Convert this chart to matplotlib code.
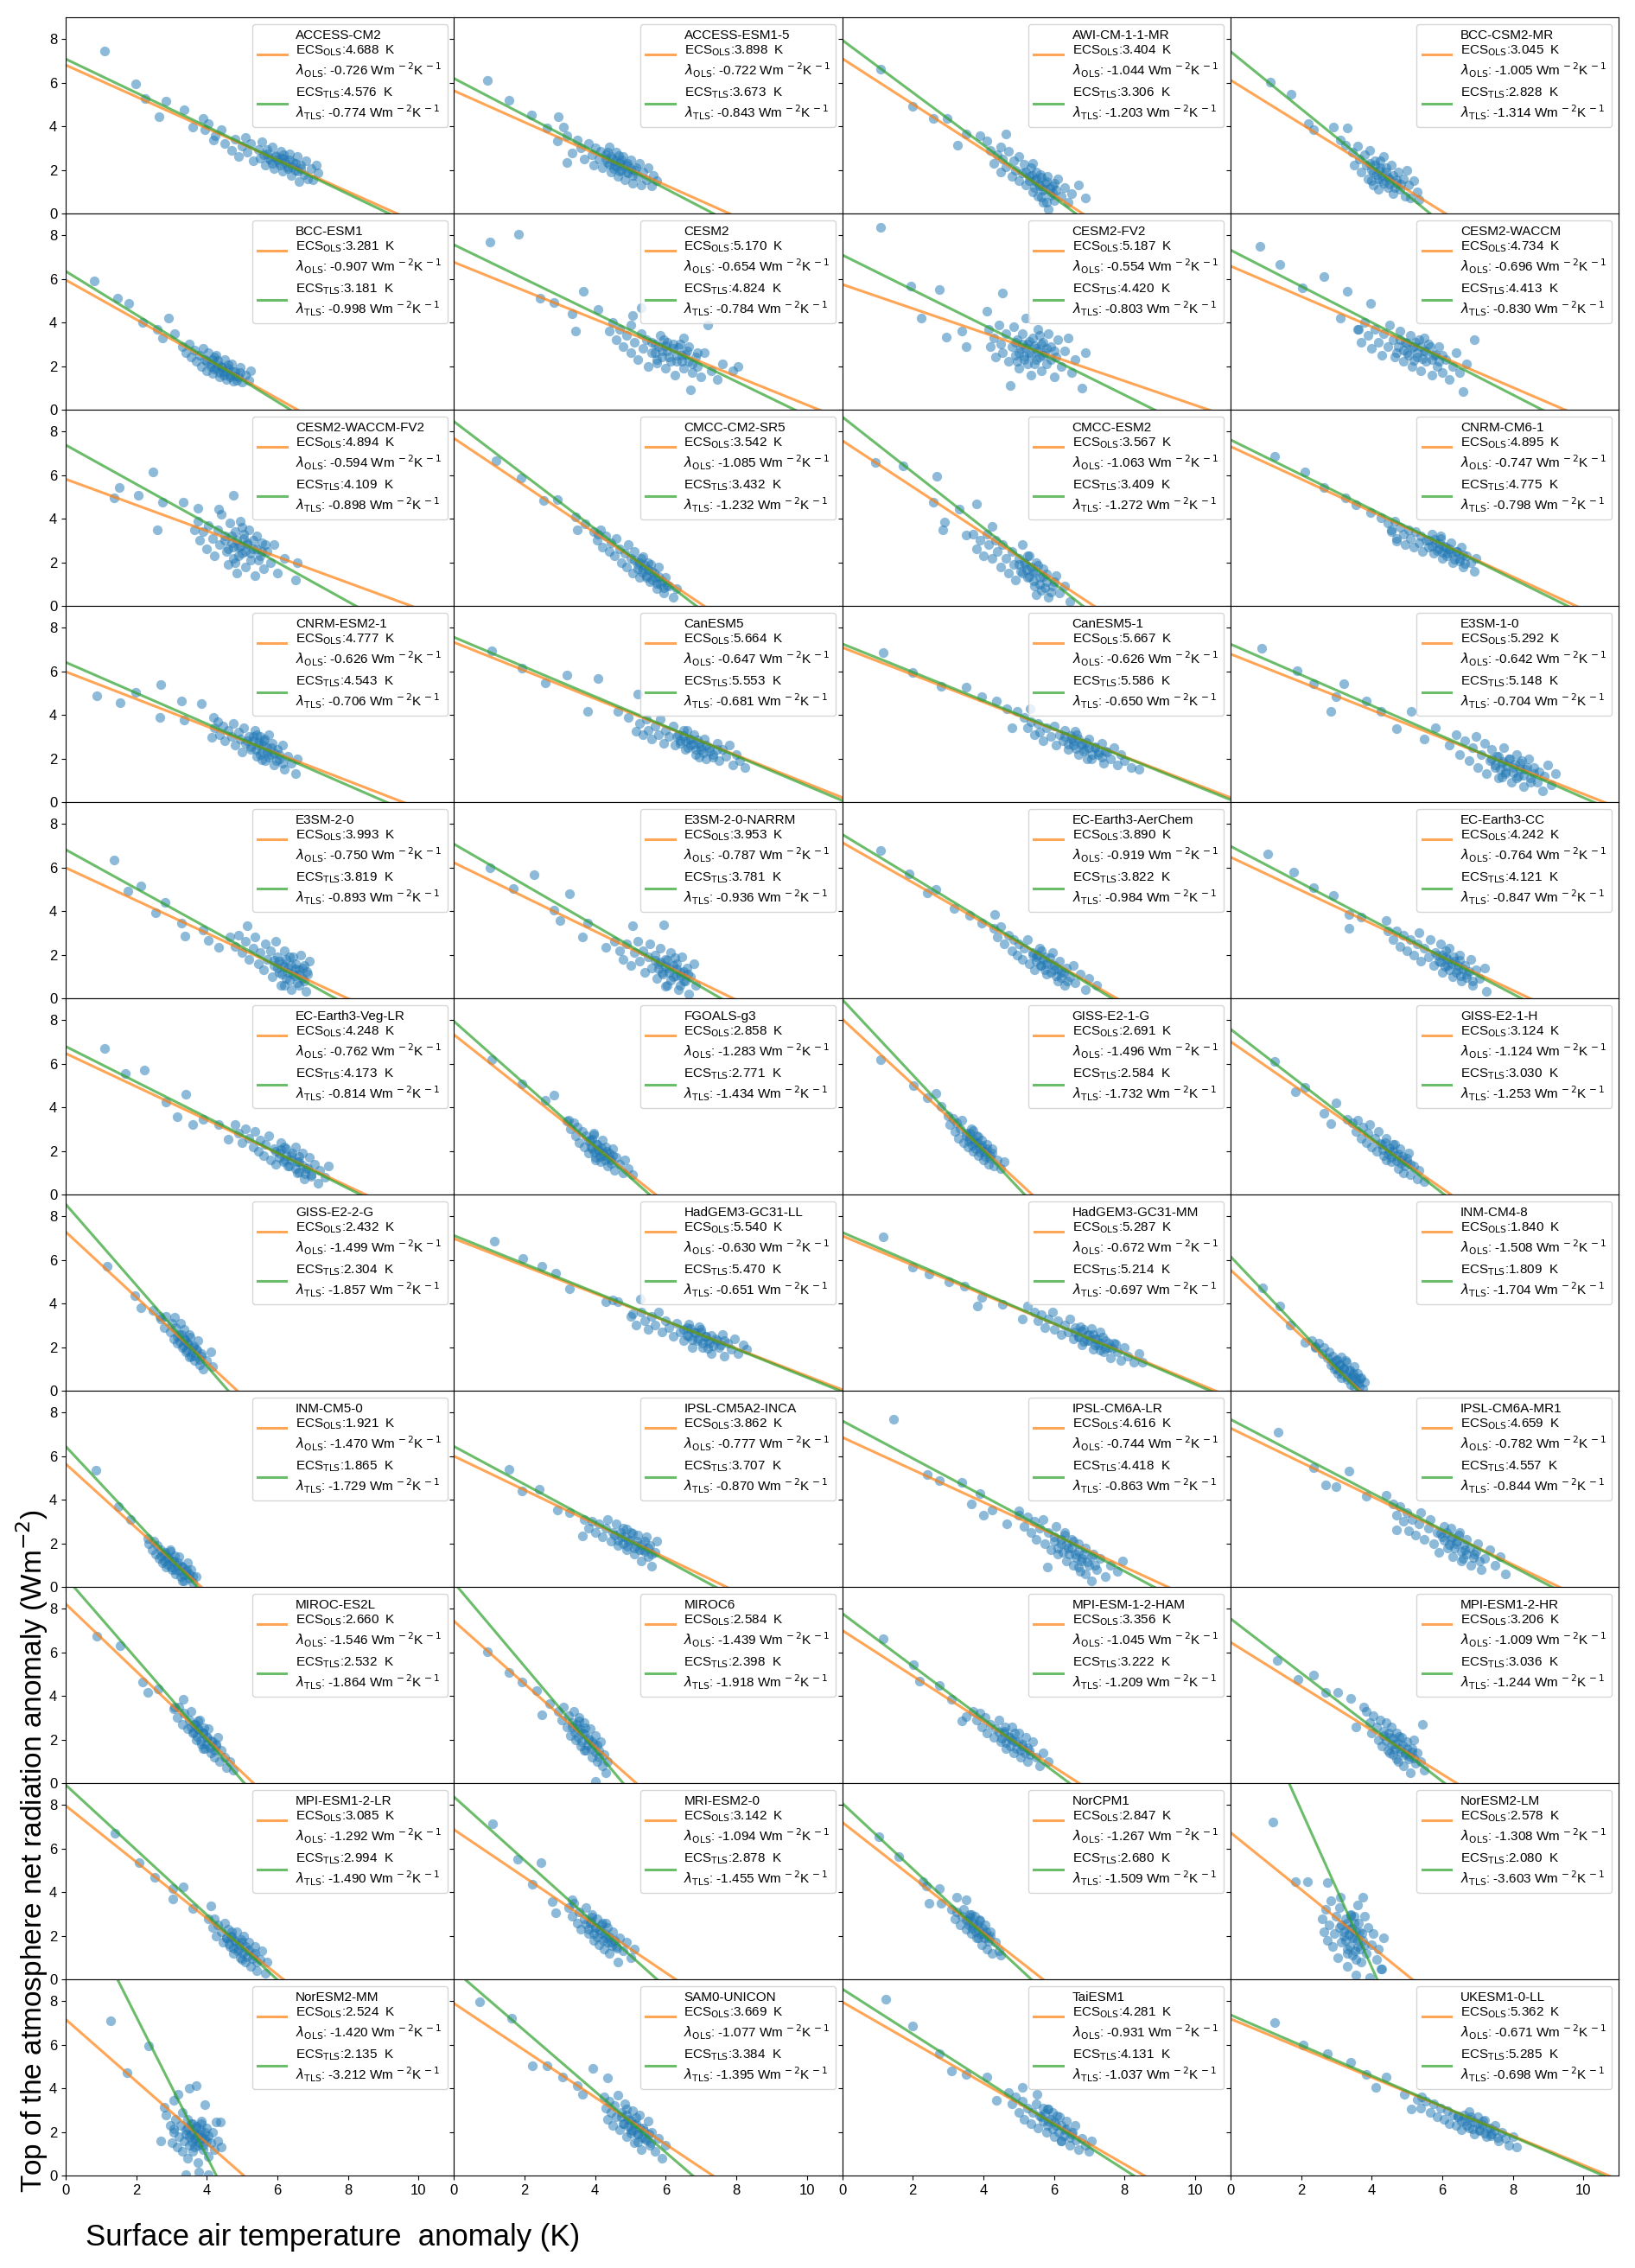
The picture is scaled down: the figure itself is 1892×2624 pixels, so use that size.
import numpy as np
import matplotlib
matplotlib.use("Agg")
import matplotlib.pyplot as plt

plt.rcParams['font.family'] = ['Liberation Sans', 'DejaVu Sans']

models = ["ACCESS-CM2", "ACCESS-ESM1-5", "AWI-CM-1-1-MR", "BCC-CSM2-MR",
          "BCC-ESM1", "CESM2", "CESM2-FV2", "CESM2-WACCM",
          "CESM2-WACCM-FV2", "CMCC-CM2-SR5", "CMCC-ESM2", "CNRM-CM6-1",
          "CNRM-ESM2-1", "CanESM5", "CanESM5-1", "E3SM-1-0",
          "E3SM-2-0", "E3SM-2-0-NARRM", "EC-Earth3-AerChem", "EC-Earth3-CC",
          "EC-Earth3-Veg-LR", "FGOALS-g3", "GISS-E2-1-G", "GISS-E2-1-H",
          "GISS-E2-2-G", "HadGEM3-GC31-LL", "HadGEM3-GC31-MM", "INM-CM4-8",
          "INM-CM5-0", "IPSL-CM5A2-INCA", "IPSL-CM6A-LR", "IPSL-CM6A-MR1",
          "MIROC-ES2L", "MIROC6", "MPI-ESM-1-2-HAM", "MPI-ESM1-2-HR",
          "MPI-ESM1-2-LR", "MRI-ESM2-0", "NorCPM1", "NorESM2-LM",
          "NorESM2-MM", "SAM0-UNICON", "TaiESM1", "UKESM1-0-LL"]

ecs_ols = [4.688, 3.898, 3.404, 3.045, 3.281, 5.170, 5.187, 4.734, 4.894, 3.542, 3.567,
           4.895, 4.777, 5.664, 5.667, 5.292, 3.993, 3.953, 3.890, 4.242, 4.248, 2.858,
           2.691, 3.124, 2.432, 5.540, 5.287, 1.840, 1.921, 3.862, 4.616, 4.659, 2.660,
           2.584, 3.356, 3.206, 3.085, 3.142, 2.847, 2.578, 2.524, 3.669, 4.281, 5.362]
lam_ols = [-0.726, -0.722, -1.044, -1.005, -0.907, -0.654, -0.554, -0.696, -0.594, -1.085,
           -1.063, -0.747, -0.626, -0.647, -0.626, -0.642, -0.750, -0.787, -0.919, -0.764,
           -0.762, -1.283, -1.496, -1.124, -1.499, -0.630, -0.672, -1.508, -1.470, -0.777,
           -0.744, -0.782, -1.546, -1.439, -1.045, -1.009, -1.292, -1.094, -1.267, -1.308,
           -1.420, -1.077, -0.931, -0.671]
ecs_tls = [4.576, 3.673, 3.306, 2.828, 3.181, 4.824, 4.420, 4.413, 4.109, 3.432, 3.409,
           4.775, 4.543, 5.553, 5.586, 5.148, 3.819, 3.781, 3.822, 4.121, 4.173, 2.771,
           2.584, 3.030, 2.304, 5.470, 5.214, 1.809, 1.865, 3.707, 4.418, 4.557, 2.532,
           2.398, 3.222, 3.036, 2.994, 2.878, 2.680, 2.080, 2.135, 3.384, 4.131, 5.285]
lam_tls = [-0.774, -0.843, -1.203, -1.314, -0.998, -0.784, -0.803, -0.830, -0.898, -1.232,
           -1.272, -0.798, -0.706, -0.681, -0.650, -0.704, -0.893, -0.936, -0.984, -0.847,
           -0.814, -1.434, -1.732, -1.253, -1.857, -0.651, -0.697, -1.704, -1.729, -0.870,
           -0.863, -0.844, -1.864, -1.918, -1.209, -1.244, -1.490, -1.455, -1.509, -3.603,
           -3.212, -1.395, -1.037, -0.698]

# (surface air temperature anomaly K, TOA net radiation anomaly W m-2)
pts_access_cm2 = [(1.09,7.45),(1.98,5.96),(2.26,5.26),(2.84,5.17),(2.64,4.44),(3.35,4.77),(3.61,3.98),(3.9,4.37),(4.04,4.11),(3.95,3.84),(4.24,3.58),(4.41,3.84),(4.18,3.38),(4.5,3.2),
    (4.7,2.9),(4.8,3.4),(4.9,2.6),(5.0,3.1),(5.1,3.5),(5.15,2.8),(5.25,3.2),(5.3,2.4),(5.45,2.95),(5.5,2.55),(5.55,3.3),(5.65,2.2),(5.7,2.75),(5.8,2.45),(5.85,3.05),(5.9,2.05),(5.95,2.65),(6.05,2.35),(6.1,2.85),(6.15,1.95),(6.2,2.5),(6.3,2.15),(6.35,2.75),(6.4,1.75),(6.45,2.35),(6.5,2.0),(6.55,2.6),(6.6,1.45),(6.65,2.2),(6.75,1.8),(6.8,2.4),(6.85,1.6),(6.95,2.05),(7.0,1.55),(7.1,2.2),(7.15,1.85)]
pts_access_esm1_5 = [(0.95,6.12),(1.55,5.19),(2.2,4.5),(2.64,3.91),(2.95,4.44),(3.1,3.98),(3.2,3.58),(2.92,3.32),(3.5,3.38),(3.35,2.79),(3.2,2.32),
    (3.6,3.0),(3.7,2.5),(3.8,3.2),(3.9,2.7),(3.95,2.2),(4.0,3.0),(4.1,2.5),(4.15,2.85),(4.2,2.1),(4.3,2.7),(4.35,2.35),(4.4,3.05),(4.45,1.9),(4.5,2.5),(4.55,2.2),(4.6,2.8),(4.65,1.7),(4.7,2.35),(4.75,2.0),(4.8,2.6),(4.85,1.55),(4.9,2.2),(4.95,1.85),(5.0,2.45),(5.05,1.4),(5.1,2.0),(5.2,1.7),(5.25,2.3),(5.3,1.3),(5.35,1.9),(5.45,1.55),(5.5,2.1),(5.6,1.25),(5.65,1.75),(5.75,1.5)]
pts_awi_cm_1_1_mr = [(1.09,6.62),(2.0,4.9),(2.58,4.37),(2.98,4.37),(3.52,3.65),(3.9,3.58),(4.64,3.65),(3.27,3.12),(4.1,3.32),(4.5,3.05),
    (4.2,2.9),(4.3,2.3),(4.4,2.7),(4.5,1.9),(4.55,2.5),(4.65,2.15),(4.7,2.85),(4.8,1.7),(4.85,2.4),(4.9,2.0),(5.0,1.5),(5.0,2.6),(5.1,1.85),(5.15,2.25),(5.2,1.3),(5.3,1.7),(5.35,2.1),(5.4,1.0),(5.45,1.5),(5.5,1.9),(5.55,0.8),(5.6,1.25),(5.65,1.65),(5.7,0.5),(5.75,1.1),(5.8,1.45),(5.85,0.2),(5.9,0.85),(5.95,1.25),(6.0,0.6),(6.05,1.05),(6.1,1.6),(6.2,0.8),(6.3,1.2),(6.4,0.5),(6.5,0.9),(6.7,1.3),(6.9,0.7)]
pts_bcc_csm2_mr = [(1.12,6.02),(1.72,5.47),(2.2,4.11),(2.35,3.84),(2.92,3.98),(3.3,3.91),(3.12,3.38),(3.27,3.12),
    (3.45,2.8),(3.5,2.2),(3.6,3.1),(3.65,2.5),(3.7,1.9),(3.8,2.7),(3.85,2.2),(3.9,1.6),(3.95,2.9),(4.0,2.0),(4.05,1.3),(4.1,2.4),(4.15,1.8),(4.2,1.1),(4.25,2.1),(4.3,1.5),(4.35,2.6),(4.4,1.9),(4.45,1.2),(4.5,1.6),(4.55,2.2),(4.6,0.9),(4.7,1.4),(4.75,1.9),(4.8,1.1),(4.9,1.6),(4.95,0.8),(5.0,2.0),(5.05,1.3),(5.1,0.7),(5.2,1.5),(5.3,1.0),(5.35,0.65)]
pts_bcc_esm1 = [(0.8,5.89),(1.46,5.13),(1.78,4.89),(2.18,4.0),(2.92,4.2),(2.6,3.67),(3.09,3.47),(2.75,3.28),
    (3.3,2.9),(3.4,2.6),(3.5,3.0),(3.55,2.4),(3.65,2.75),(3.7,2.2),(3.8,2.5),(3.85,2.0),(3.9,2.8),(3.95,2.3),(4.0,1.8),(4.05,2.6),(4.1,2.1),(4.15,1.65),(4.2,2.4),(4.25,1.9),(4.3,2.25),(4.35,1.5),(4.4,2.0),(4.45,1.75),(4.5,2.3),(4.55,1.4),(4.6,1.9),(4.65,1.6),(4.7,2.1),(4.75,1.3),(4.8,1.75),(4.9,1.5),(4.95,1.95),(5.0,1.25),(5.1,1.6),(5.2,1.35),(5.25,1.8)]
pts_cesm2 = [(1.03,7.7),(1.83,8.03),(2.44,5.13),(2.84,4.93),(3.67,5.42),(3.35,4.4),(4.07,4.6),(3.44,3.61),(5.3,4.66),(5.07,4.33),
    (4.4,3.6),(4.5,4.0),(4.6,3.2),(4.7,3.7),(4.8,2.9),(4.9,3.4),(5.0,2.6),(5.0,3.9),(5.1,3.1),(5.2,2.3),(5.3,3.5),(5.35,2.8),(5.45,3.2),(5.5,2.0),(5.6,2.6),(5.7,3.0),(5.75,2.3),(5.85,3.4),(5.9,2.7),(6.0,1.9),(6.05,3.1),(6.1,2.4),(6.2,2.8),(6.25,1.6),(6.3,2.2),(6.4,3.0),(6.45,2.5),(6.5,1.9),(6.6,2.7),(6.65,2.2),(6.7,0.9),(6.75,1.7),(6.85,2.4),(6.9,2.0),(7.0,1.5),(7.1,2.6),(7.2,3.9),(7.3,1.8),(7.45,1.4),(7.6,2.1),(7.9,1.8),(8.05,2.0)]
pts_cesm2_fv2 = [(1.09,8.36),(1.95,5.65),(2.75,5.52),(2.23,4.2),(2.95,3.34),(3.38,3.61),(3.52,2.88),(4.53,5.34),(4.1,4.53),
    (4.15,3.7),(4.2,2.9),(4.3,3.3),(4.35,2.4),(4.45,3.9),(4.5,3.0),(4.55,2.6),(4.65,3.5),(4.7,2.2),(4.75,1.1),(4.8,2.9),(4.85,3.8),(4.9,2.5),(4.95,3.2),(5.0,1.9),(5.05,2.8),(5.1,3.5),(5.15,2.3),(5.2,4.2),(5.25,3.0),(5.3,2.6),(5.35,1.6),(5.4,3.3),(5.45,2.1),(5.5,2.8),(5.55,3.7),(5.6,2.4),(5.65,1.8),(5.7,3.1),(5.75,2.6),(5.8,2.1),(5.85,3.5),(5.9,2.9),(6.0,1.5),(6.05,2.4),(6.1,3.2),(6.2,2.0),(6.3,2.7),(6.4,3.3),(6.5,1.7),(6.6,2.3),(6.8,1.0),(6.9,2.6)]
pts_cesm2_waccm = [(0.83,7.5),(1.4,6.64),(2.03,5.59),(2.64,6.12),(3.12,4.2),(3.32,5.43),(3.98,4.86),(3.64,3.67),
    (3.6,3.7),(3.7,3.1),(3.8,4.0),(3.9,3.4),(4.0,2.8),(4.1,3.7),(4.2,3.1),(4.3,2.5),(4.35,3.5),(4.45,2.9),(4.5,3.9),(4.6,3.2),(4.65,2.4),(4.75,2.9),(4.8,3.6),(4.9,2.2),(4.95,3.1),(5.0,2.6),(5.1,3.4),(5.15,2.0),(5.2,2.9),(5.3,2.4),(5.35,3.2),(5.4,1.8),(5.5,2.7),(5.55,2.2),(5.6,3.0),(5.7,1.6),(5.75,2.5),(5.85,2.0),(5.9,2.9),(6.0,1.7),(6.1,2.3),(6.2,1.4),(6.3,2.0),(6.4,2.6),(6.5,1.7),(6.6,0.85),(6.7,2.1),(6.9,3.2)]
pts_cesm2_waccm_fv2 = [(1.38,4.95),(1.52,5.42),(2.06,5.09),(2.46,6.14),(2.75,4.76),(2.6,3.5),(3.32,4.76),(3.75,4.49),(4.33,4.43),(4.76,5.09),
    (3.65,3.5),(3.75,3.9),(3.8,3.0),(3.9,3.4),(4.0,2.6),(4.05,3.7),(4.15,3.1),(4.2,2.3),(4.3,3.5),(4.35,2.8),(4.4,4.2),(4.5,3.2),(4.55,2.5),(4.6,1.9),(4.65,3.8),(4.7,2.9),(4.75,2.2),(4.8,3.4),(4.85,1.5),(4.9,2.7),(4.95,3.9),(5.0,2.4),(5.05,3.1),(5.1,1.8),(5.15,2.8),(5.2,3.5),(5.25,2.1),(5.3,2.6),(5.35,1.4),(5.4,3.2),(5.5,2.3),(5.55,2.9),(5.6,1.7),(5.7,2.5),(5.8,2.0),(5.9,2.8),(6.0,1.5),(6.2,2.2),(6.5,1.2),(6.55,2.0)]
pts_cmcc_cm2_sr5 = [(1.2,6.67),(1.89,5.85),(2.55,4.82),(2.92,4.89),(3.44,4.1),(3.5,3.5),(3.72,3.76),(4.07,3.3),
    (3.95,3.4),(4.05,3.0),(4.15,3.5),(4.2,2.7),(4.3,3.2),(4.4,2.5),(4.45,2.9),(4.55,2.3),(4.6,3.1),(4.7,2.6),(4.75,2.0),(4.85,2.4),(4.9,1.8),(4.95,2.8),(5.0,2.2),(5.05,1.5),(5.1,2.5),(5.2,1.9),(5.25,1.3),(5.3,2.2),(5.35,1.7),(5.45,1.4),(5.5,2.0),(5.55,1.1),(5.6,1.6),(5.7,1.3),(5.75,0.8),(5.8,1.8),(5.85,1.0),(5.95,0.6),(6.0,1.3),(6.1,0.9),(6.2,0.4),(6.3,0.8)]
pts_cmcc_esm2 = [(0.95,6.6),(1.72,6.43),(2.69,5.94),(2.58,4.76),(3.32,4.43),(3.81,4.69),(2.89,3.83),(2.86,3.5),(3.52,3.24),(4.24,3.63),
    (3.7,3.3),(3.8,2.6),(3.9,3.0),(4.0,2.3),(4.1,3.3),(4.15,2.8),(4.25,2.2),(4.35,3.0),(4.4,2.5),(4.5,1.8),(4.55,2.8),(4.65,2.2),(4.7,1.5),(4.8,2.5),(4.85,1.9),(4.9,1.2),(5.0,2.2),(5.05,1.6),(5.1,2.8),(5.2,1.9),(5.25,1.3),(5.3,2.3),(5.4,1.6),(5.45,0.9),(5.5,2.0),(5.6,1.3),(5.65,0.7),(5.7,1.7),(5.8,1.1),(5.85,0.4),(5.95,0.9),(6.05,1.4),(6.15,0.6),(6.3,0.9),(6.45,0.2)]
pts_cnrm_cm6_1 = [(1.26,6.87),(2.12,6.14),(2.64,5.42),(3.27,4.95),(3.55,4.62),(3.98,4.29),(4.27,4.03),(4.7,2.97),(4.56,3.5),
    (4.45,3.8),(4.55,3.4),(4.65,3.9),(4.7,3.1),(4.8,3.6),(4.9,3.3),(4.95,2.8),(5.05,3.5),(5.1,3.1),(5.2,2.7),(5.25,3.4),(5.35,2.9),(5.4,3.2),(5.45,2.5),(5.55,3.0),(5.6,2.7),(5.7,3.3),(5.75,2.4),(5.8,2.9),(5.9,2.6),(5.95,3.1),(6.0,2.2),(6.1,2.7),(6.15,2.4),(6.25,2.9),(6.3,2.0),(6.4,2.5),(6.5,2.2),(6.55,2.7),(6.6,1.8),(6.7,2.3),(6.8,2.0),(6.9,1.6),(6.95,2.2)]
pts_cnrm_esm2_1 = [(0.89,4.89),(1.55,4.56),(1.98,5.02),(2.69,5.38),(2.66,3.9),(3.27,4.62),(3.84,4.53),(3.35,3.76),(4.18,3.9),(4.13,2.97),
    (4.2,3.4),(4.3,3.7),(4.35,3.1),(4.45,3.5),(4.5,2.8),(4.6,3.3),(4.7,3.0),(4.75,3.6),(4.8,2.6),(4.9,3.2),(4.95,2.9),(5.0,2.3),(5.05,3.4),(5.1,2.7),(5.2,3.0),(5.25,2.4),(5.3,2.8),(5.35,3.3),(5.4,2.1),(5.45,2.6),(5.5,3.0),(5.55,2.3),(5.6,2.8),(5.65,1.9),(5.7,2.5),(5.75,3.1),(5.8,2.2),(5.85,2.7),(5.9,1.7),(6.0,2.4),(6.05,2.0),(6.15,2.6),(6.2,1.5),(6.3,2.1),(6.4,1.8),(6.5,1.3),(6.55,2.0)]
pts_canesm5 = [(1.06,6.94),(1.92,6.14),(2.58,5.48),(3.21,5.81),(4.07,5.68),(3.78,4.16),(4.64,4.16),(5.21,4.95),(5.16,3.24),(4.93,3.9),
    (5.25,3.6),(5.35,3.1),(5.45,3.8),(5.5,3.3),(5.6,2.9),(5.7,3.5),(5.8,3.1),(5.85,3.8),(5.95,2.7),(6.0,3.3),(6.1,3.0),(6.2,3.5),(6.25,2.6),(6.35,3.1),(6.4,2.8),(6.5,3.3),(6.55,2.4),(6.65,2.9),(6.7,2.6),(6.8,3.1),(6.85,2.2),(6.95,2.7),(7.0,2.4),(7.1,2.9),(7.15,2.0),(7.25,2.5),(7.35,2.2),(7.45,2.7),(7.5,1.9),(7.6,2.4),(7.7,2.1),(7.8,2.6),(7.9,1.7),(8.0,2.2),(8.1,1.9),(8.25,1.6)]
pts_canesm5_1 = [(1.15,6.84),(2.0,5.94),(2.81,5.32),(3.52,5.28),(3.95,4.82),(4.38,4.62),(4.67,4.29),(4.96,4.16),(5.33,4.29),(4.81,3.43),
    (5.15,3.9),(5.25,3.4),(5.35,3.7),(5.45,3.1),(5.55,3.6),(5.6,3.2),(5.7,2.8),(5.8,3.4),(5.9,3.0),(6.0,3.5),(6.05,2.6),(6.15,3.1),(6.25,2.8),(6.3,3.3),(6.4,2.4),(6.5,2.9),(6.55,2.6),(6.65,3.1),(6.7,2.2),(6.8,2.7),(6.9,2.4),(7.0,2.9),(7.05,2.0),(7.15,2.5),(7.25,2.2),(7.35,2.7),(7.4,1.8),(7.5,2.3),(7.6,2.0),(7.7,2.5),(7.8,1.7),(7.9,2.2),(8.0,1.9),(8.2,1.6),(8.4,1.5)]
pts_e3sm_1_0 = [(0.89,7.07),(1.89,6.01),(2.35,5.42),(3.21,5.42),(2.84,4.16),(2.98,4.82),(3.84,4.62),(4.27,4.16),(5.13,4.16),(4.7,3.37),(5.5,2.9),(5.8,3.4),
    (6.2,2.6),(6.4,3.1),(6.5,2.2),(6.65,2.8),(6.75,1.9),(6.85,2.5),(6.95,3.0),(7.0,1.6),(7.1,2.2),(7.2,2.7),(7.25,1.3),(7.35,1.9),(7.4,2.4),(7.5,1.6),(7.55,2.1),(7.6,1.1),(7.7,1.8),(7.75,2.5),(7.8,1.4),(7.9,2.0),(7.95,0.9),(8.0,1.6),(8.1,2.2),(8.15,1.2),(8.2,1.8),(8.3,0.7),(8.35,1.5),(8.45,2.0),(8.5,1.1),(8.6,1.6),(8.7,0.9),(8.75,1.4),(8.85,0.5),(8.9,1.2),(9.0,1.7),(9.1,0.8),(9.2,1.3)]
pts_e3sm_2_0 = [(1.38,6.34),(1.75,4.91),(2.12,5.15),(2.55,3.92),(2.81,4.39),(3.27,3.46),(3.38,2.87),(3.9,3.13),(4.04,2.67),(4.33,2.34),(5.13,3.33),
    (4.65,2.8),(4.8,2.4),(4.9,2.9),(5.0,2.1),(5.1,2.6),(5.2,1.8),(5.3,2.3),(5.35,2.8),(5.45,1.6),(5.5,2.1),(5.6,1.3),(5.65,2.5),(5.7,1.8),(5.8,2.2),(5.85,1.0),(5.9,1.5),(5.95,2.6),(6.0,1.9),(6.05,1.2),(6.1,0.6),(6.15,1.6),(6.2,2.2),(6.25,0.9),(6.3,1.4),(6.35,1.9),(6.4,0.4),(6.45,1.1),(6.5,1.6),(6.55,0.7),(6.6,1.3),(6.65,2.0),(6.7,0.9),(6.75,1.5),(6.8,0.3),(6.85,1.1),(6.9,1.7)]
pts_e3sm_2_0_narrm = [(1.03,5.97),(1.69,5.05),(2.26,5.68),(3.27,4.78),(2.84,4.06),(3.01,3.59),(3.78,3.46),(3.64,2.8),(4.3,2.34),(5.07,3.33),(5.93,3.39),
    (4.55,2.6),(4.7,2.2),(4.8,1.8),(4.9,2.5),(5.0,1.5),(5.1,2.1),(5.2,2.6),(5.25,1.7),(5.35,2.2),(5.4,1.2),(5.5,1.9),(5.55,2.5),(5.6,1.4),(5.7,2.0),(5.75,0.9),(5.8,1.6),(5.85,2.3),(5.9,1.2),(6.0,1.8),(6.05,0.6),(6.1,1.4),(6.15,2.1),(6.2,1.0),(6.3,1.6),(6.35,0.4),(6.4,1.2),(6.45,1.9),(6.5,0.8),(6.6,1.4),(6.65,0.2),(6.7,1.0),(6.8,1.6),(6.85,0.6)]
pts_ec_earth3_aerchem = [(1.09,6.79),(1.89,5.71),(2.41,4.85),(2.66,4.98),(3.18,4.12),(3.61,3.79),(4.33,3.86),(3.95,3.46),
    (4.3,3.2),(4.4,2.8),(4.5,3.3),(4.6,2.5),(4.7,2.9),(4.8,2.2),(4.85,2.7),(4.95,2.0),(5.0,2.5),(5.1,1.8),(5.15,2.3),(5.25,2.7),(5.3,1.6),(5.4,2.1),(5.45,1.3),(5.5,1.9),(5.6,2.3),(5.65,1.5),(5.75,1.9),(5.8,1.1),(5.9,1.6),(5.95,2.1),(6.0,1.3),(6.1,0.8),(6.15,1.7),(6.2,1.2),(6.3,0.6),(6.35,1.4),(6.45,1.0),(6.55,1.5),(6.6,0.7),(6.75,1.1),(6.9,0.4),(7.0,0.9),(7.2,0.6)]
pts_ec_earth3_cc = [(1.06,6.63),(1.78,5.81),(2.35,5.07),(2.92,4.72),(3.35,3.86),(3.7,3.73),(3.35,3.2),(4.41,3.59),
    (4.45,3.1),(4.6,2.7),(4.7,3.1),(4.8,2.4),(4.9,2.9),(5.0,2.2),(5.1,2.7),(5.2,2.0),(5.3,2.5),(5.35,3.0),(5.4,1.7),(5.5,2.3),(5.6,1.9),(5.65,2.7),(5.75,1.5),(5.8,2.1),(5.9,1.7),(5.95,2.5),(6.0,1.2),(6.1,1.9),(6.15,1.5),(6.2,2.3),(6.3,1.0),(6.35,1.7),(6.45,1.3),(6.5,2.0),(6.55,0.8),(6.65,1.5),(6.7,1.1),(6.8,1.8),(6.85,0.6),(6.95,1.3),(7.05,0.9),(7.2,1.4),(7.25,0.3)]
pts_ec_earth3_veg_lr = [(1.09,6.72),(1.69,5.57),(2.23,5.7),(2.84,4.25),(3.41,4.62),(3.15,3.59),(3.61,3.2),(3.9,3.46),(4.33,3.2),(4.61,2.54),
    (4.8,3.2),(4.9,2.8),(5.0,2.4),(5.1,3.0),(5.2,2.6),(5.3,2.2),(5.35,2.9),(5.45,2.0),(5.5,2.5),(5.6,1.8),(5.65,2.3),(5.75,2.7),(5.8,1.6),(5.9,2.1),(5.95,1.4),(6.05,1.9),(6.1,2.4),(6.2,1.6),(6.25,2.1),(6.35,1.3),(6.4,1.8),(6.5,2.2),(6.55,1.0),(6.6,1.5),(6.7,1.9),(6.75,0.7),(6.8,1.2),(6.9,1.7),(6.95,0.9),(7.05,1.4),(7.15,0.5),(7.2,1.1),(7.35,0.8),(7.45,1.3)]
pts_fgoals_g3 = [(1.06,6.2),(1.92,5.07),(2.84,4.58),(2.58,4.32),(3.21,3.39),
    (3.25,3.4),(3.3,3.0),(3.4,3.3),(3.45,2.7),(3.5,3.1),(3.55,2.4),(3.65,2.9),(3.7,2.2),(3.75,2.7),(3.8,1.9),(3.85,2.5),(3.9,2.1),(3.95,2.8),(4.0,1.7),(4.05,2.3),(4.1,2.0),(4.15,1.5),(4.2,2.5),(4.25,1.8),(4.3,2.2),(4.35,1.3),(4.4,1.9),(4.45,1.6),(4.5,2.1),(4.55,1.1),(4.6,1.7),(4.7,1.4),(4.8,1.0),(4.85,1.6),(4.95,1.2),(5.05,0.9)]
pts_giss_e2_1_g = [(1.09,6.2),(2.03,4.98),(2.41,4.45),(2.66,4.65),(2.81,4.06),
    (3.0,3.6),(3.05,3.2),(3.15,3.5),(3.2,2.9),(3.25,3.3),(3.3,2.6),(3.35,3.0),(3.4,3.4),(3.45,2.4),(3.5,2.8),(3.55,2.2),(3.6,2.6),(3.65,3.0),(3.7,2.0),(3.75,2.4),(3.8,2.7),(3.85,1.8),(3.9,2.2),(3.95,2.5),(4.0,1.6),(4.05,2.0),(4.1,2.3),(4.15,1.4),(4.2,1.8),(4.25,2.1),(4.3,1.3),(4.4,1.6),(4.5,1.2),(4.6,1.5)]
pts_giss_e2_1_h = [(1.26,6.1),(1.83,4.72),(2.12,4.91),(2.98,4.19),(2.64,3.73),(2.84,3.26),(3.32,3.46),
    (3.45,3.3),(3.55,2.9),(3.6,3.4),(3.7,2.6),(3.75,3.1),(3.85,2.4),(3.9,2.8),(3.95,3.2),(4.0,2.2),(4.1,2.6),(4.15,2.0),(4.2,2.9),(4.3,2.3),(4.35,1.8),(4.4,2.6),(4.5,2.0),(4.55,1.5),(4.6,2.3),(4.7,1.8),(4.75,1.2),(4.8,2.1),(4.85,1.6),(4.9,1.0),(5.0,1.5),(5.05,1.9),(5.1,0.9),(5.2,1.3),(5.3,0.7),(5.35,1.1),(5.5,0.6)]
pts_giss_e2_2_g = [(1.17,5.73),(1.95,4.35),(2.12,3.82),(2.46,3.69),(2.66,3.42),(3.09,3.36),
    (2.7,3.3),(2.8,2.9),(2.85,3.4),(2.95,2.7),(3.0,3.1),(3.05,2.4),(3.1,2.9),(3.15,2.2),(3.2,2.6),(3.25,3.1),(3.3,2.0),(3.35,2.4),(3.4,1.8),(3.45,2.2),(3.5,2.6),(3.55,1.6),(3.6,2.0),(3.65,1.4),(3.7,1.9),(3.75,2.3),(3.8,1.2),(3.85,1.6),(3.9,1.0),(4.0,1.4),(4.1,1.8),(4.15,1.1)]
pts_hadgem3_gc31_ll = [(1.15,6.88),(1.95,6.06),(2.49,5.73),(2.87,5.4),(3.27,4.68),(4.3,4.08),(4.64,4.08),(5.27,4.21),(5.07,3.55),(4.5,4.15),
    (5.0,3.4),(5.15,3.0),(5.3,3.6),(5.4,3.2),(5.5,2.8),(5.6,3.4),(5.7,3.0),(5.8,3.6),(5.9,2.7),(6.0,3.2),(6.1,2.9),(6.2,2.5),(6.3,3.1),(6.4,2.7),(6.5,2.3),(6.6,2.9),(6.65,2.5),(6.75,2.0),(6.8,2.7),(6.9,2.3),(7.0,2.8),(7.05,2.0),(7.15,2.5),(7.25,2.2),(7.3,1.7),(7.4,2.4),(7.5,2.0),(7.6,2.6),(7.65,1.6),(7.75,2.2),(7.85,1.9),(7.95,2.4),(8.05,1.7),(8.2,2.1),(8.3,1.9)]
pts_hadgem3_gc31_mm = [(1.15,7.05),(2.0,5.67),(2.46,5.34),(3.01,5.01),(3.47,4.81),(3.84,3.88),(3.95,4.28),(4.53,3.95),(5.1,3.29),(5.24,3.88),
    (5.45,3.6),(5.55,3.2),(5.65,3.5),(5.75,2.9),(5.85,3.3),(5.95,3.6),(6.0,2.8),(6.1,3.2),(6.2,2.6),(6.3,3.0),(6.4,2.7),(6.45,3.3),(6.55,2.4),(6.6,2.9),(6.7,2.5),(6.8,2.1),(6.85,2.8),(6.95,2.3),(7.0,2.6),(7.1,1.9),(7.15,2.4),(7.25,2.1),(7.3,2.7),(7.4,1.8),(7.45,2.3),(7.55,2.0),(7.6,1.5),(7.7,2.2),(7.8,1.8),(7.9,1.4),(8.0,2.0),(8.1,1.6),(8.25,1.3),(8.4,1.7),(8.5,1.3)]
pts_inm_cm4_8 = [(0.92,4.74),(1.4,3.88),(1.69,3.03),(2.12,2.23),(2.41,2.03),
    (2.3,2.3),(2.4,2.0),(2.5,2.2),(2.6,1.7),(2.65,2.0),(2.75,1.5),(2.8,1.8),(2.85,1.2),(2.9,1.6),(2.95,1.0),(3.0,1.4),(3.05,0.8),(3.1,1.2),(3.15,0.6),(3.2,1.0),(3.25,1.4),(3.3,0.5),(3.35,0.9),(3.4,0.3),(3.45,0.7),(3.5,1.1),(3.55,0.4),(3.6,0.8),(3.65,0.2),(3.7,0.6),(3.75,0.1),(3.8,0.4)]
pts_inm_cm5_0 = [(0.86,5.34),(1.49,3.69),(1.83,3.09),(2.32,2.23),
    (2.35,2.0),(2.45,1.7),(2.5,2.1),(2.55,1.5),(2.6,1.9),(2.65,1.3),(2.7,1.7),(2.75,1.1),(2.8,1.5),(2.85,0.9),(2.9,1.3),(2.95,1.7),(3.0,0.8),(3.05,1.2),(3.1,0.6),(3.15,1.0),(3.2,1.4),(3.25,0.5),(3.3,0.9),(3.35,0.3),(3.4,0.7),(3.45,1.1),(3.5,0.4),(3.55,0.8),(3.6,0.2),(3.7,0.5)]
pts_ipsl_cm5a2_inca = [(1.55,5.38),(1.92,4.41),(2.41,4.48),(2.92,3.55),(3.27,3.42),(3.64,2.36),
    (3.7,3.1),(3.8,2.7),(3.9,3.0),(4.0,2.5),(4.1,2.9),(4.2,2.3),(4.3,2.7),(4.35,3.1),(4.45,2.1),(4.5,2.5),(4.6,2.9),(4.65,1.9),(4.75,2.3),(4.8,2.7),(4.9,1.7),(4.95,2.1),(5.0,2.5),(5.1,1.5),(5.15,1.9),(5.2,2.4),(5.3,1.2),(5.35,1.7),(5.4,2.1),(5.5,1.4),(5.55,1.9),(5.6,0.95),(5.7,1.6),(5.75,2.1)]
pts_ipsl_cm6a_lr = [(1.46,7.69),(2.41,5.14),(2.75,4.87),(3.38,4.81),(3.9,4.28),(3.67,3.82),(4.01,3.29),(4.24,3.55),(4.67,2.89),(5.01,3.49),(5.82,0.91),
    (5.0,3.3),(5.15,2.8),(5.25,3.2),(5.35,2.5),(5.45,3.0),(5.5,2.2),(5.6,2.7),(5.7,3.1),(5.75,2.0),(5.85,2.5),(5.9,1.7),(6.0,2.3),(6.05,2.8),(6.1,1.5),(6.2,2.0),(6.3,2.5),(6.35,1.2),(6.4,1.8),(6.5,2.2),(6.55,1.0),(6.6,1.5),(6.7,2.0),(6.75,0.7),(6.8,1.3),(6.9,1.8),(7.0,1.0),(7.05,0.3),(7.1,1.5),(7.2,0.8),(7.3,1.3),(7.45,0.5),(7.6,1.0),(7.8,0.7),(7.95,1.2)]
pts_ipsl_cm6a_mr1 = [(1.35,7.12),(2.35,5.47),(2.69,4.68),(2.98,4.61),(3.35,5.31),(3.84,4.15),(4.41,4.21),(4.7,2.63),
    (4.6,3.8),(4.7,3.3),(4.8,3.7),(4.9,3.0),(5.0,3.4),(5.05,2.6),(5.15,3.1),(5.25,2.4),(5.35,2.9),(5.4,3.4),(5.5,2.2),(5.6,2.7),(5.65,3.1),(5.75,2.0),(5.85,2.5),(5.9,1.6),(6.0,2.3),(6.05,2.8),(6.15,1.8),(6.25,2.2),(6.3,1.4),(6.4,2.0),(6.5,2.5),(6.55,1.2),(6.65,1.7),(6.7,2.2),(6.8,1.0),(6.9,1.5),(7.0,2.0),(7.1,0.8),(7.2,1.3),(7.35,1.7),(7.5,1.0),(7.65,1.4),(7.8,0.6)]
pts_miroc_es2l = [(0.89,6.75),(1.55,6.31),(2.18,4.64),(2.32,4.17),(2.61,4.31),(3.32,3.84),(3.09,3.51),
    (3.05,3.4),(3.15,3.0),(3.2,3.5),(3.3,2.7),(3.35,3.2),(3.45,2.5),(3.5,2.9),(3.55,3.3),(3.6,2.3),(3.65,2.7),(3.7,2.0),(3.75,2.5),(3.8,2.9),(3.85,1.8),(3.9,2.3),(3.95,1.6),(4.0,2.1),(4.05,2.5),(4.1,1.4),(4.15,1.9),(4.2,1.2),(4.25,1.7),(4.3,2.1),(4.35,1.0),(4.4,1.5),(4.5,1.2),(4.55,0.7),(4.65,1.0),(4.75,0.6)]
pts_miroc6 = [(0.95,6.02),(1.55,5.1),(1.92,4.64),(2.35,4.24),(2.72,3.65),(2.49,3.12),
    (2.95,3.3),(3.05,2.9),(3.1,3.5),(3.2,2.6),(3.25,3.1),(3.3,2.2),(3.35,2.8),(3.4,3.3),(3.45,2.0),(3.5,2.5),(3.55,3.0),(3.6,1.7),(3.65,2.3),(3.7,2.8),(3.75,1.5),(3.8,2.0),(3.85,2.5),(3.9,1.2),(3.95,1.8),(4.0,2.2),(4.05,1.0),(4.1,1.5),(4.15,1.9),(4.2,0.8),(4.25,1.3),(4.3,0.5),(4.35,1.0),(4.0,0.1)]
pts_mpi_esm_1_2_ham = [(1.15,6.62),(2.03,5.43),(2.18,4.7),(2.75,4.5),(3.09,3.84),(3.52,3.05),(3.38,2.85),
    (3.7,3.3),(3.8,2.9),(3.9,3.2),(3.95,2.6),(4.05,3.0),(4.1,2.3),(4.2,2.7),(4.3,2.1),(4.35,2.5),(4.45,2.9),(4.5,1.9),(4.6,2.3),(4.65,1.6),(4.75,2.1),(4.8,2.6),(4.85,1.4),(4.9,1.9),(5.0,2.3),(5.05,1.2),(5.1,1.7),(5.2,2.1),(5.25,1.0),(5.3,1.5),(5.4,1.9),(5.5,1.2),(5.6,0.8),(5.7,1.4),(5.85,1.0)]
pts_mpi_esm1_2_hr = [(1.32,5.63),(1.92,4.77),(2.35,4.97),(2.69,4.17),(3.04,4.17),(3.41,3.91),(3.78,3.51),(3.55,2.59),
    (3.85,3.3),(3.95,2.8),(4.0,2.3),(4.05,3.1),(4.15,2.6),(4.2,2.0),(4.25,2.9),(4.3,1.7),(4.35,2.4),(4.4,2.8),(4.45,1.5),(4.5,2.1),(4.55,2.6),(4.6,1.3),(4.65,1.8),(4.7,2.3),(4.75,1.0),(4.8,1.6),(4.85,2.1),(4.9,0.8),(4.95,1.4),(5.0,1.9),(5.05,1.1),(5.1,0.5),(5.15,1.6),(5.2,2.0),(5.25,0.9),(5.3,1.4),(5.4,1.0),(5.45,2.7),(5.5,0.6)]
pts_mpi_esm1_2_lr = [(1.4,6.71),(2.09,5.34),(2.52,4.7),(3.04,4.17),(3.32,4.24),(3.04,3.71),(3.61,3.25),(4.1,3.38),
    (4.05,2.8),(4.15,2.4),(4.2,2.8),(4.25,2.0),(4.3,2.5),(4.4,2.2),(4.45,1.7),(4.5,2.6),(4.55,1.9),(4.6,2.3),(4.65,1.5),(4.7,2.0),(4.75,1.2),(4.8,1.8),(4.85,2.2),(4.9,1.4),(4.95,1.0),(5.0,1.7),(5.05,2.0),(5.1,0.8),(5.15,1.3),(5.2,1.7),(5.25,0.6),(5.3,1.1),(5.35,1.5),(5.4,0.4),(5.5,0.9),(5.55,1.3),(5.65,0.3),(5.7,0.8)]
pts_mri_esm2_0 = [(1.09,7.15),(1.81,5.52),(2.46,5.34),(2.21,4.37),(2.78,3.58),(2.87,3.05),(3.35,3.65),
    (3.25,3.3),(3.35,2.9),(3.4,3.5),(3.5,2.6),(3.55,3.1),(3.6,2.3),(3.7,2.8),(3.75,3.3),(3.8,2.1),(3.85,2.6),(3.9,3.0),(3.95,1.8),(4.0,2.4),(4.05,2.8),(4.1,1.6),(4.15,2.1),(4.2,2.6),(4.25,1.4),(4.3,1.9),(4.35,2.4),(4.4,1.2),(4.45,1.7),(4.5,2.2),(4.6,1.5),(4.65,0.8),(4.7,1.9),(4.8,1.3),(4.9,1.7),(5.0,1.0),(5.1,1.4)]
pts_norcpm1 = [(1.03,6.55),(1.6,5.65),(2.29,4.5),(2.38,4.3),(2.75,4.17),(2.46,3.51),(2.81,3.51),(3.24,3.78),(3.52,3.65),
    (3.1,3.2),(3.2,2.8),(3.25,3.1),(3.35,2.5),(3.4,2.9),(3.45,3.2),(3.5,2.3),(3.55,2.7),(3.6,3.0),(3.65,2.1),(3.7,2.5),(3.75,2.9),(3.8,1.9),(3.85,2.3),(3.9,2.7),(3.95,1.6),(4.0,2.1),(4.05,2.5),(4.1,1.4),(4.15,1.9),(4.2,2.2),(4.25,1.2),(4.35,1.7),(4.45,1.3),(4.5,1.1)]
pts_noresm2_lm = [(1.2,7.21),(1.83,4.5),(2.18,4.5),(2.75,4.44),(3.12,3.78),(3.75,3.78),(4.27,0.48),
    (2.6,2.8),(2.65,2.2),(2.7,3.2),(2.75,1.8),(2.8,2.5),(2.85,3.6),(2.9,1.5),(2.95,2.1),(3.0,2.9),(3.05,1.0),(3.1,2.4),(3.1,3.3),(3.15,1.7),(3.2,2.0),(3.25,2.8),(3.3,0.6),(3.3,1.4),(3.35,2.3),(3.4,3.0),(3.45,1.1),(3.5,1.9),(3.5,2.6),(3.55,0.2),(3.6,1.5),(3.6,3.4),(3.65,2.2),(3.7,0.8),(3.75,1.8),(3.8,2.9),(3.85,1.2),(3.9,2.4),(3.95,0.1),(4.0,1.6),(4.05,2.1),(4.15,0.9),(4.2,1.4),(4.3,0.5),(4.35,1.9)]
pts_noresm2_mm = [(1.26,7.09),(2.35,5.94),(1.73,4.71),(3.06,3.46),(3.17,3.72),(3.5,4.01),(3.69,4.12),(2.79,3.13),(2.84,2.8),(2.69,1.61),(3.06,2.14),(4.26,2.47),(4.37,2.47),(3.93,3.26),(3.39,0.03),(3.77,0.16),(4.04,0.03),
    (2.95,2.3),(3.0,1.5),(3.05,2.0),(3.1,2.6),(3.15,1.3),(3.2,1.8),(3.25,2.3),(3.3,2.9),(3.3,1.1),(3.35,1.6),(3.4,2.1),(3.45,2.6),(3.45,0.8),(3.5,1.4),(3.55,1.9),(3.6,2.4),(3.6,1.1),(3.65,1.7),(3.7,2.2),(3.75,0.6),(3.75,1.4),(3.8,1.9),(3.85,2.5),(3.9,1.2),(3.95,1.7),(4.0,2.2),(4.05,0.9),(4.1,1.5),(4.15,2.0),(4.2,1.2),(4.3,1.6),(4.4,1.3)]
pts_sam0_unicon = [(0.72,7.97),(1.63,7.24),(2.21,5.03),(2.64,5.06),(3.07,4.53),(3.5,4.13),(3.93,4.93),(3.64,3.74),(4.36,4.47),
    (4.25,3.6),(4.3,3.1),(4.35,2.6),(4.4,3.4),(4.45,2.9),(4.5,2.3),(4.55,3.2),(4.6,2.7),(4.65,3.7),(4.7,2.1),(4.75,2.9),(4.8,2.4),(4.85,3.3),(4.9,1.8),(4.95,2.6),(5.0,2.1),(5.05,3.0),(5.1,1.5),(5.15,2.4),(5.2,1.9),(5.25,2.8),(5.3,1.2),(5.35,2.2),(5.4,1.7),(5.5,2.5),(5.55,1.4),(5.6,2.0),(5.7,1.1),(5.8,1.7),(5.9,0.8),(6.0,1.4)]
pts_taiesm1 = [(1.23,8.1),(2.0,6.88),(2.75,5.59),(3.09,4.8),(3.52,4.66),(4.1,4.53),(4.38,3.47),(5.1,4.07),(5.53,3.74),(5.82,3.08),
    (4.7,3.8),(4.8,3.3),(4.9,3.6),(5.0,2.9),(5.1,3.4),(5.15,2.6),(5.25,3.1),(5.35,2.4),(5.4,2.9),(5.5,3.3),(5.55,2.2),(5.65,2.7),(5.7,3.1),(5.8,2.0),(5.85,2.5),(5.95,2.9),(6.0,1.8),(6.05,2.3),(6.15,2.7),(6.2,1.6),(6.3,2.1),(6.35,2.5),(6.45,1.4),(6.5,1.9),(6.6,2.3),(6.7,1.2),(6.8,1.7),(6.9,1.4),(7.0,1.1),(7.05,1.6)]
pts_ukesm1_0_ll = [(1.26,7.04),(2.06,5.98),(2.75,5.59),(3.41,5.19),(3.84,4.66),(4.41,4.53),(4.13,4.07),(4.93,3.74),(5.42,3.61),(5.13,3.08),
    (5.3,3.5),(5.4,3.1),(5.55,3.4),(5.65,2.9),(5.75,3.3),(5.85,2.7),(5.95,3.1),(6.05,2.6),(6.15,3.0),(6.2,2.4),(6.3,2.8),(6.4,2.3),(6.45,2.7),(6.55,2.1),(6.65,2.5),(6.75,2.2),(6.8,2.7),(6.9,1.9),(7.0,2.4),(7.05,2.1),(7.15,2.5),(7.25,1.8),(7.35,2.2),(7.4,1.9),(7.5,2.3),(7.6,1.6),(7.7,2.0),(7.8,1.7),(7.9,1.4),(8.0,1.8),(8.1,1.3)]

# denser cores of the equilibrating clusters
core_access_cm2 = [(5.6,2.7),(5.75,2.55),(5.85,2.3),(5.92,2.62),(6.0,2.45),(6.08,2.2),(6.12,2.55),(6.22,2.32),(6.28,2.05),(6.35,2.45),(6.42,2.15),(6.5,2.3),(6.58,1.95),(6.18,2.7),(5.7,2.95),(6.65,2.05)]
core_access_esm1_5 = [(4.3,2.5),(4.4,2.25),(4.45,2.6),(4.52,2.05),(4.58,2.4),(4.62,2.15),(4.7,1.95),(4.75,2.45),(4.8,2.2),(4.88,1.9),(4.92,2.3),(5.0,2.05),(4.35,2.8),(4.68,2.65),(5.05,1.75),(5.15,2.1)]
core_awi_cm_1_1_mr = [(5.2,1.9),(5.3,1.5),(5.38,1.75),(5.45,1.2),(5.5,1.6),(5.58,1.35),(5.62,1.8),(5.7,1.05),(5.75,1.4),(5.82,1.7),(5.88,1.15),(5.95,0.95),(5.65,0.75),(5.4,2.3),(6.0,1.4),(5.78,0.5)]
core_bcc_csm2_mr = [(3.95,2.3),(4.05,1.9),(4.1,2.2),(4.18,1.6),(4.22,2.0),(4.3,1.75),(4.35,1.4),(4.4,2.1),(4.45,1.65),(4.52,1.35),(4.6,1.75),(4.65,1.2),(4.25,2.4),(4.7,1.55),(4.82,1.35),(4.0,1.5)]
core_bcc_esm1 = [(4.0,2.2),(4.1,2.0),(4.15,2.3),(4.22,1.85),(4.3,2.05),(4.35,1.7),(4.42,1.95),(4.48,1.6),(4.55,1.8),(4.6,2.05),(4.65,1.5),(4.72,1.75),(4.8,1.55),(4.85,1.35),(4.25,2.5),(4.95,1.7)]
core_cesm2 = [(5.6,3.1),(5.7,2.6),(5.8,2.9),(5.9,2.4),(5.95,3.2),(6.05,2.7),(6.15,2.2),(6.2,3.0),(6.3,2.5),(6.35,2.85),(6.45,2.2),(6.55,2.55),(6.65,2.9),(6.75,2.1),(5.75,2.15),(6.9,2.6),(6.0,2.95),(6.5,3.3)]
core_cesm2_fv2 = [(4.9,3.1),(5.0,2.6),(5.1,3.0),(5.15,2.45),(5.2,2.85),(5.3,3.15),(5.35,2.5),(5.45,2.95),(5.5,2.3),(5.55,2.7),(5.65,3.0),(5.7,2.5),(5.8,2.8),(5.9,2.3),(5.25,2.1),(5.6,3.4),(6.0,2.7),(4.95,2.2)]
core_cesm2_waccm = [(4.8,3.2),(4.9,2.75),(5.0,3.05),(5.05,2.5),(5.15,2.85),(5.25,3.1),(5.3,2.6),(5.4,2.9),(5.45,2.35),(5.55,2.65),(5.65,2.9),(5.7,2.3),(5.8,2.55),(5.9,2.2),(5.2,2.25),(5.5,3.3),(6.0,2.5),(4.7,2.6)]
core_cesm2_waccm_fv2 = [(4.5,3.0),(4.6,2.6),(4.7,3.2),(4.75,2.7),(4.85,3.0),(4.9,2.3),(4.95,2.75),(5.05,3.3),(5.1,2.5),(5.15,2.9),(5.25,2.4),(5.3,3.0),(5.4,2.6),(5.45,2.1),(5.55,2.5),(4.8,2.0),(5.0,3.6),(5.65,2.8)]
core_cmcc_cm2_sr5 = [(5.1,2.1),(5.2,1.7),(5.25,2.0),(5.32,1.55),(5.4,1.85),(5.45,1.3),(5.5,1.65),(5.58,1.9),(5.62,1.2),(5.68,1.5),(5.75,1.05),(5.8,1.35),(5.9,1.15),(5.95,0.85),(5.35,2.25),(6.05,0.95)]
core_cmcc_esm2 = [(5.0,1.9),(5.1,1.5),(5.15,2.0),(5.22,1.65),(5.3,1.35),(5.35,1.8),(5.42,1.15),(5.48,1.55),(5.55,1.85),(5.6,1.0),(5.68,1.35),(5.75,0.85),(5.8,1.45),(5.9,0.65),(5.25,2.3),(6.0,1.1),(5.5,0.5)]
core_cnrm_cm6_1 = [(5.6,3.0),(5.7,2.75),(5.78,3.05),(5.85,2.55),(5.92,2.85),(6.0,2.45),(6.05,2.75),(6.12,2.3),(6.2,2.6),(6.28,2.4),(6.35,2.15),(6.42,2.5),(6.5,2.05),(6.58,2.35),(5.95,3.2),(6.65,1.95)]
core_cnrm_esm2_1 = [(5.15,2.8),(5.25,2.55),(5.3,3.0),(5.38,2.4),(5.45,2.75),(5.5,2.2),(5.58,2.6),(5.62,2.9),(5.7,2.3),(5.75,2.05),(5.82,2.5),(5.9,2.25),(5.98,1.9),(6.05,2.2),(5.4,3.1),(6.15,1.8),(5.55,1.95)]
core_canesm5 = [(6.3,3.0),(6.4,2.7),(6.5,3.05),(6.55,2.8),(6.62,2.5),(6.7,2.9),(6.78,2.65),(6.85,2.4),(6.9,2.85),(7.0,2.55),(7.08,2.25),(7.15,2.6),(7.25,2.35),(7.35,2.05),(6.6,3.3),(7.45,2.4),(6.95,2.05)]
core_canesm5_1 = [(6.3,3.0),(6.4,2.65),(6.48,3.05),(6.55,2.8),(6.62,2.45),(6.7,2.9),(6.78,2.6),(6.85,2.35),(6.92,2.75),(7.0,2.5),(7.08,2.2),(7.15,2.55),(7.25,2.3),(7.35,2.05),(6.6,3.25),(7.45,2.35),(6.95,2.0)]
core_e3sm_1_0 = [(7.4,2.0),(7.5,1.7),(7.6,2.1),(7.65,1.5),(7.72,1.85),(7.8,1.3),(7.85,1.65),(7.92,2.0),(8.0,1.35),(8.05,1.75),(8.12,1.1),(8.2,1.5),(8.3,1.25),(8.4,1.6),(8.5,0.9),(7.7,1.15),(8.25,1.9),(8.6,1.3)]
core_e3sm_2_0 = [(5.9,1.75),(6.0,1.4),(6.05,1.7),(6.12,1.1),(6.18,1.45),(6.25,1.8),(6.3,1.2),(6.35,0.85),(6.4,1.5),(6.48,1.05),(6.52,1.35),(6.6,0.6),(6.62,1.1),(6.7,1.4),(6.2,0.6),(6.75,0.8),(6.45,1.9),(6.82,1.25)]
core_e3sm_2_0_narrm = [(5.7,1.75),(5.8,1.35),(5.85,1.65),(5.92,1.1),(6.0,1.45),(6.05,1.75),(6.1,1.2),(6.15,0.85),(6.2,1.5),(6.28,1.05),(6.32,1.35),(6.4,0.6),(6.42,1.05),(6.5,1.25),(6.0,0.55),(6.55,0.8),(6.25,1.85),(6.62,1.1)]
core_ec_earth3_aerchem = [(5.4,2.0),(5.5,1.7),(5.55,2.0),(5.62,1.5),(5.7,1.8),(5.75,1.3),(5.8,1.6),(5.88,1.85),(5.92,1.2),(6.0,1.5),(6.05,1.05),(6.12,1.35),(6.2,0.95),(6.28,1.2),(5.65,2.2),(6.38,0.8)]
core_ec_earth3_cc = [(5.85,2.0),(5.95,1.65),(6.0,2.0),(6.08,1.45),(6.15,1.8),(6.2,1.3),(6.28,1.6),(6.32,1.9),(6.4,1.2),(6.45,1.5),(6.52,1.05),(6.6,1.35),(6.68,0.95),(6.75,1.25),(6.1,2.2),(6.85,0.8),(6.5,1.75)]
core_ec_earth3_veg_lr = [(5.95,2.0),(6.05,1.7),(6.1,2.05),(6.18,1.5),(6.25,1.8),(6.3,1.3),(6.38,1.6),(6.42,1.9),(6.5,1.2),(6.55,1.5),(6.62,1.05),(6.7,1.35),(6.78,0.95),(6.85,1.25),(6.2,2.2),(6.95,0.85),(6.6,1.75)]
core_fgoals_g3 = [(3.8,2.45),(3.88,2.2),(3.92,2.55),(3.98,1.95),(4.03,2.3),(4.08,2.05),(4.12,1.75),(4.18,2.15),(4.22,1.9),(4.28,1.6),(4.32,2.0),(4.38,1.7),(4.45,1.45),(3.95,2.75),(4.5,1.8),(4.0,1.6)]
core_giss_e2_1_g = [(3.5,2.7),(3.58,2.45),(3.62,2.8),(3.68,2.25),(3.72,2.55),(3.78,2.1),(3.82,2.4),(3.86,2.65),(3.9,1.95),(3.95,2.25),(4.0,2.0),(4.05,1.75),(4.1,2.1),(4.18,1.65),(3.7,2.95),(4.25,1.9)]
core_giss_e2_1_h = [(4.25,2.35),(4.32,2.05),(4.38,2.4),(4.45,1.85),(4.5,2.15),(4.55,1.7),(4.6,2.0),(4.65,2.3),(4.7,1.55),(4.75,1.85),(4.82,1.45),(4.88,1.75),(4.95,1.3),(5.0,1.65),(4.4,1.6),(5.1,1.4)]
core_giss_e2_2_g = [(3.15,2.5),(3.22,2.25),(3.28,2.6),(3.32,2.05),(3.38,2.35),(3.42,1.85),(3.48,2.15),(3.52,2.45),(3.58,1.75),(3.62,2.05),(3.68,1.6),(3.72,1.85),(3.8,1.45),(3.35,2.8),(3.85,1.7),(3.5,1.55)]
core_hadgem3_gc31_ll = [(6.5,2.8),(6.6,2.55),(6.7,2.85),(6.75,2.35),(6.85,2.65),(6.92,2.4),(7.0,2.7),(7.05,2.2),(7.12,2.5),(7.2,2.3),(7.28,2.55),(7.35,2.05),(7.45,2.3),(7.55,2.1),(6.65,3.05),(7.65,2.3),(7.2,1.95),(6.95,2.95)]
core_hadgem3_gc31_mm = [(6.6,2.7),(6.7,2.45),(6.8,2.75),(6.85,2.25),(6.95,2.55),(7.02,2.3),(7.1,2.6),(7.15,2.1),(7.22,2.4),(7.3,2.2),(7.38,2.45),(7.45,1.95),(7.55,2.2),(7.65,1.95),(6.75,2.95),(7.75,2.15),(7.3,1.85),(7.05,2.85)]
core_inm_cm4_8 = [(2.9,1.3),(2.98,1.05),(3.02,1.45),(3.08,0.9),(3.12,1.2),(3.18,0.75),(3.22,1.05),(3.28,1.3),(3.32,0.65),(3.38,0.95),(3.42,0.55),(3.48,0.8),(3.55,0.6),(3.62,0.35),(3.15,1.55),(3.68,0.55),(3.5,0.2)]
core_inm_cm5_0 = [(2.7,1.45),(2.78,1.2),(2.82,1.6),(2.88,1.05),(2.92,1.35),(2.98,0.9),(3.02,1.2),(3.08,1.45),(3.12,0.8),(3.18,1.1),(3.22,0.7),(3.28,0.95),(3.35,0.55),(3.42,0.8),(2.95,1.65),(3.5,0.6),(3.3,0.3),(3.6,0.5)]
core_ipsl_cm5a2_inca = [(4.55,2.4),(4.65,2.15),(4.72,2.5),(4.8,2.0),(4.85,2.3),(4.92,1.85),(4.98,2.15),(5.05,2.45),(5.1,1.8),(5.18,2.1),(5.25,1.7),(5.3,1.95),(5.4,1.65),(5.5,1.8),(4.9,2.65),(5.45,2.3),(5.6,1.5)]
core_ipsl_cm6a_lr = [(6.0,2.1),(6.1,1.8),(6.2,2.2),(6.25,1.6),(6.35,1.95),(6.42,1.5),(6.5,1.8),(6.55,2.1),(6.62,1.35),(6.7,1.65),(6.78,1.2),(6.85,1.5),(6.95,1.15),(7.05,1.4),(6.3,2.4),(7.15,1.0),(6.7,0.9),(6.9,0.6)]
core_ipsl_cm6a_mr1 = [(5.95,2.45),(6.05,2.15),(6.12,2.5),(6.2,1.95),(6.28,2.3),(6.35,1.8),(6.42,2.1),(6.48,2.4),(6.55,1.65),(6.62,1.95),(6.7,1.5),(6.78,1.8),(6.88,1.35),(6.95,1.65),(6.25,2.7),(7.05,1.2),(6.6,1.3)]
core_miroc_es2l = [(3.55,2.6),(3.62,2.35),(3.68,2.7),(3.72,2.15),(3.78,2.45),(3.82,1.95),(3.88,2.3),(3.92,2.55),(3.98,1.8),(4.02,2.1),(4.08,1.65),(4.12,1.95),(4.2,1.5),(3.75,2.85),(4.25,1.8),(3.9,1.6)]
core_miroc6 = [(3.35,2.6),(3.42,2.35),(3.48,2.7),(3.52,2.1),(3.58,2.45),(3.62,1.9),(3.68,2.25),(3.72,2.55),(3.78,1.75),(3.82,2.05),(3.88,1.6),(3.92,1.9),(4.0,1.45),(3.55,2.85),(4.05,1.75),(3.7,1.5),(4.1,1.2)]
core_mpi_esm_1_2_ham = [(4.45,2.35),(4.52,2.05),(4.58,2.4),(4.65,1.85),(4.7,2.15),(4.76,1.7),(4.82,2.0),(4.88,2.3),(4.92,1.6),(4.98,1.9),(5.05,1.5),(5.1,1.8),(5.18,1.4),(5.25,1.65),(4.62,2.6),(5.32,1.3)]
core_mpi_esm1_2_hr = [(4.35,2.2),(4.42,1.95),(4.48,2.3),(4.55,1.75),(4.6,2.05),(4.66,1.55),(4.72,1.85),(4.78,2.15),(4.82,1.45),(4.88,1.75),(4.95,1.3),(5.0,1.6),(5.08,1.25),(5.15,1.45),(4.5,1.4),(5.2,1.15),(4.7,1.1)]
core_mpi_esm1_2_lr = [(4.55,1.9),(4.62,1.65),(4.68,1.95),(4.75,1.45),(4.8,1.75),(4.86,1.3),(4.92,1.6),(4.98,1.85),(5.02,1.2),(5.08,1.5),(5.15,1.05),(5.2,1.35),(5.28,0.95),(5.35,1.2),(4.7,2.2),(5.42,0.8),(5.0,0.9)]
core_mri_esm2_0 = [(3.75,2.55),(3.82,2.3),(3.88,2.65),(3.95,2.1),(4.0,2.4),(4.06,1.95),(4.12,2.25),(4.18,2.5),(4.22,1.8),(4.28,2.1),(4.35,1.7),(4.4,1.95),(4.48,1.55),(4.55,1.8),(3.92,2.85),(4.62,1.45),(4.3,2.6)]
core_norcpm1 = [(3.5,2.75),(3.58,2.5),(3.62,2.85),(3.68,2.35),(3.72,2.6),(3.78,2.2),(3.82,2.5),(3.88,2.75),(3.92,2.05),(3.98,2.35),(4.02,1.9),(4.08,2.2),(4.15,1.75),(3.65,3.0),(4.2,2.0),(3.85,1.9)]
core_noresm2_lm = [(3.15,2.5),(3.2,2.2),(3.25,1.8),(3.3,2.6),(3.35,2.05),(3.38,1.5),(3.42,2.35),(3.45,1.9),(3.5,2.9),(3.52,1.3),(3.55,2.2),(3.6,1.8),(3.62,2.6),(3.68,1.4),(3.72,2.1),(3.4,2.95),(3.3,1.2),(3.8,1.6),(3.55,0.9)]
core_noresm2_mm = [(3.45,2.2),(3.5,1.8),(3.55,2.4),(3.58,1.55),(3.62,2.0),(3.66,1.7),(3.7,2.25),(3.74,1.85),(3.78,1.5),(3.82,2.1),(3.86,1.75),(3.9,1.4),(3.94,2.0),(3.98,1.6),(3.65,1.3),(3.85,2.4),(4.05,1.85),(3.4,1.9)]
core_sam0_unicon = [(4.75,2.7),(4.82,2.4),(4.88,2.8),(4.95,2.25),(5.0,2.55),(5.05,2.05),(5.1,2.35),(5.15,2.65),(5.2,1.9),(5.25,2.2),(5.32,1.75),(5.38,2.05),(5.45,1.65),(5.52,1.9),(4.9,3.05),(5.58,1.5),(5.2,1.55),(5.0,1.95)]
core_taiesm1 = [(5.6,2.75),(5.7,2.5),(5.75,2.85),(5.82,2.3),(5.9,2.6),(5.95,2.15),(6.02,2.45),(6.08,2.75),(6.12,2.0),(6.2,2.3),(6.28,1.85),(6.35,2.15),(6.45,1.75),(6.52,2.0),(5.85,3.05),(6.62,1.65),(6.2,1.6)]
core_ukesm1_0_ll = [(6.45,2.75),(6.55,2.5),(6.62,2.8),(6.7,2.3),(6.78,2.6),(6.85,2.15),(6.92,2.45),(7.0,2.7),(7.05,2.05),(7.12,2.35),(7.2,1.95),(7.28,2.2),(7.38,1.85),(7.48,2.05),(6.75,2.95),(7.58,1.75),(7.2,2.55)]

point_sets = [pts_access_cm2 + core_access_cm2, pts_access_esm1_5 + core_access_esm1_5,
              pts_awi_cm_1_1_mr + core_awi_cm_1_1_mr, pts_bcc_csm2_mr + core_bcc_csm2_mr,
              pts_bcc_esm1 + core_bcc_esm1, pts_cesm2 + core_cesm2,
              pts_cesm2_fv2 + core_cesm2_fv2, pts_cesm2_waccm + core_cesm2_waccm,
              pts_cesm2_waccm_fv2 + core_cesm2_waccm_fv2, pts_cmcc_cm2_sr5 + core_cmcc_cm2_sr5,
              pts_cmcc_esm2 + core_cmcc_esm2, pts_cnrm_cm6_1 + core_cnrm_cm6_1,
              pts_cnrm_esm2_1 + core_cnrm_esm2_1, pts_canesm5 + core_canesm5,
              pts_canesm5_1 + core_canesm5_1, pts_e3sm_1_0 + core_e3sm_1_0,
              pts_e3sm_2_0 + core_e3sm_2_0, pts_e3sm_2_0_narrm + core_e3sm_2_0_narrm,
              pts_ec_earth3_aerchem + core_ec_earth3_aerchem, pts_ec_earth3_cc + core_ec_earth3_cc,
              pts_ec_earth3_veg_lr + core_ec_earth3_veg_lr, pts_fgoals_g3 + core_fgoals_g3,
              pts_giss_e2_1_g + core_giss_e2_1_g, pts_giss_e2_1_h + core_giss_e2_1_h,
              pts_giss_e2_2_g + core_giss_e2_2_g, pts_hadgem3_gc31_ll + core_hadgem3_gc31_ll,
              pts_hadgem3_gc31_mm + core_hadgem3_gc31_mm, pts_inm_cm4_8 + core_inm_cm4_8,
              pts_inm_cm5_0 + core_inm_cm5_0, pts_ipsl_cm5a2_inca + core_ipsl_cm5a2_inca,
              pts_ipsl_cm6a_lr + core_ipsl_cm6a_lr, pts_ipsl_cm6a_mr1 + core_ipsl_cm6a_mr1,
              pts_miroc_es2l + core_miroc_es2l, pts_miroc6 + core_miroc6,
              pts_mpi_esm_1_2_ham + core_mpi_esm_1_2_ham, pts_mpi_esm1_2_hr + core_mpi_esm1_2_hr,
              pts_mpi_esm1_2_lr + core_mpi_esm1_2_lr, pts_mri_esm2_0 + core_mri_esm2_0,
              pts_norcpm1 + core_norcpm1, pts_noresm2_lm + core_noresm2_lm,
              pts_noresm2_mm + core_noresm2_mm, pts_sam0_unicon + core_sam0_unicon,
              pts_taiesm1 + core_taiesm1, pts_ukesm1_0_ll + core_ukesm1_0_ll]

xticks = [0, 2, 4, 6, 8, 10]
yticks = [0, 2, 4, 6, 8]

fig, axes = plt.subplots(11, 4, sharex=True, sharey=True, figsize=(18.92, 26.24), dpi=100)
fig.subplots_adjust(left=0.0402, right=0.990, bottom=0.0407, top=0.9924, wspace=0, hspace=0)

xline = np.array([0.0, 11.0])
for i, ax in enumerate(axes.flat):
    pts = np.array(point_sets[i])
    ax.scatter(pts[:, 0], pts[:, 1], s=66, color='tab:blue', alpha=0.5, linewidths=0)
    f_ols = -2.0 * ecs_ols[i] * lam_ols[i]
    f_tls = -2.0 * ecs_tls[i] * lam_tls[i]
    lab_ols = (f"{models[i]}\nECS$_{{\\rm OLS}}$:{ecs_ols[i]:.3f}  K\n"
               f"$\\lambda_{{\\rm OLS}}$: {lam_ols[i]:.3f} Wm$^{{\\,-2}}$K$^{{\\,-1}}$")
    lab_tls = (f"ECS$_{{\\rm TLS}}$:{ecs_tls[i]:.3f}  K\n"
               f"$\\lambda_{{\\rm TLS}}$: {lam_tls[i]:.3f} Wm$^{{\\,-2}}$K$^{{\\,-1}}$")
    ax.plot(xline, f_ols + lam_ols[i] * xline, color='tab:orange', alpha=0.7, lw=2.2, label=lab_ols)
    ax.plot(xline, f_tls + lam_tls[i] * xline, color='tab:green', alpha=0.7, lw=2.2, label=lab_tls)
    ax.set_xlim(0, 11)
    ax.set_ylim(0, 9)
    ax.set_xticks(xticks)
    ax.set_yticks(yticks)
    ax.tick_params(labelsize=12)
    ax.legend(loc='upper right', fontsize=11, handlelength=2.2, handletextpad=0.7)

fig.text(0.2035, 0.0137, "Surface air temperature  anomaly (K)", ha='center', va='center', fontsize=25)
fig.text(0.0195, 0.184, "Top of the atmosphere net radiation anomaly (Wm$^{-2}$)",
         rotation=90, ha='center', va='center', fontsize=24)

fig.savefig("out.png", dpi=100)
